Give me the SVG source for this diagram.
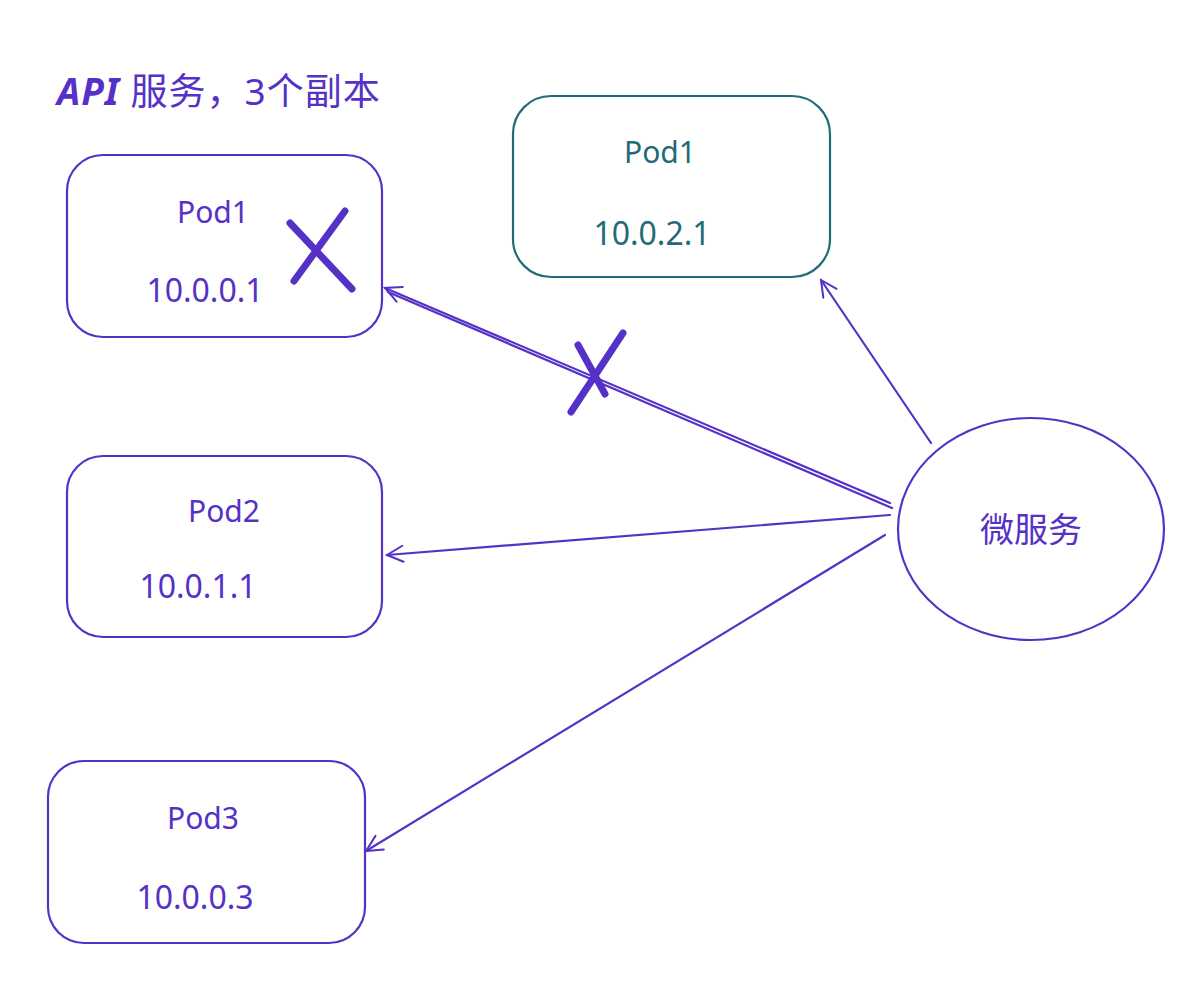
<svg xmlns="http://www.w3.org/2000/svg" width="1198" height="998" viewBox="0 0 1198 998">
<defs>
<style>
.p{fill:none;stroke:#5531c7;stroke-width:2.2;stroke-linecap:round;stroke-linejoin:round}
.t{fill:none;stroke:#1f6b77;stroke-width:2.2}
.tx{font-family:"Noto Sans","Noto Sans CJK SC",sans-serif;fill:#5531c7;text-anchor:middle}
.tt{font-family:"Noto Sans","Noto Sans CJK SC",sans-serif;fill:#1f6b77;text-anchor:middle}
.x{fill:none;stroke:#5531c7;stroke-width:7;stroke-linecap:round}
</style>
<marker id="ah" viewBox="0 0 20 20" refX="18" refY="10" markerWidth="20" markerHeight="20" markerUnits="userSpaceOnUse" orient="auto">
<path d="M2,2 L18,10 L2,18" fill="none" stroke="#5531c7" stroke-width="2" stroke-linecap="round"/>
</marker>
</defs>
<rect width="1198" height="998" fill="#fff"/>
<text x="57" y="105" font-family="Noto Sans,Noto Sans CJK SC,sans-serif" font-size="37" fill="#5531c7" letter-spacing="1"><tspan font-style="italic" font-weight="bold">API</tspan> 服务，3个副本</text>
<g id="pod1">
<rect class="p" x="67" y="155" width="315" height="182" rx="36"/>
<text class="tx" x="213" y="223" font-size="30">Pod1</text>
<text class="tx" x="205" y="302" font-size="32">10.0.0.1</text>
<path class="x" d="M290,223 L352,289 M345,211 L294,281"/>
</g>
<g id="pod1b">
<rect class="t" x="513" y="96" width="317" height="181" rx="38"/>
<text class="tt" x="660" y="163" font-size="30">Pod1</text>
<text class="tt" x="652" y="245" font-size="32">10.0.2.1</text>
</g>
<g id="pod2">
<rect class="p" x="67" y="456" width="315" height="181" rx="36"/>
<text class="tx" x="224" y="522" font-size="30">Pod2</text>
<text class="tx" x="198" y="598" font-size="32">10.0.1.1</text>
</g>
<g id="pod3">
<rect class="p" x="48" y="761" width="317" height="182" rx="36"/>
<text class="tx" x="203" y="829" font-size="30">Pod3</text>
<text class="tx" x="195" y="909" font-size="32">10.0.0.3</text>
</g>
<g id="svc">
<ellipse class="p" cx="1031" cy="529" rx="133" ry="111"/>
<text class="tx" x="1031" y="542" font-size="34">微服务</text>
</g>
<g id="connectors">
<path class="p" d="M890,503 L385,288" marker-end="url(#ah)"/>
<path class="p" d="M892,508 L388,292"/>
<path class="p" d="M890,515 L387,555" marker-end="url(#ah)"/>
<path class="p" d="M885,535 L366,851" marker-end="url(#ah)"/>
<path class="p" d="M931,443 L821,280" marker-end="url(#ah)"/>
<path class="x" d="M623,333 L571,412 M578,345 L605,394"/>
</g>
</svg>
